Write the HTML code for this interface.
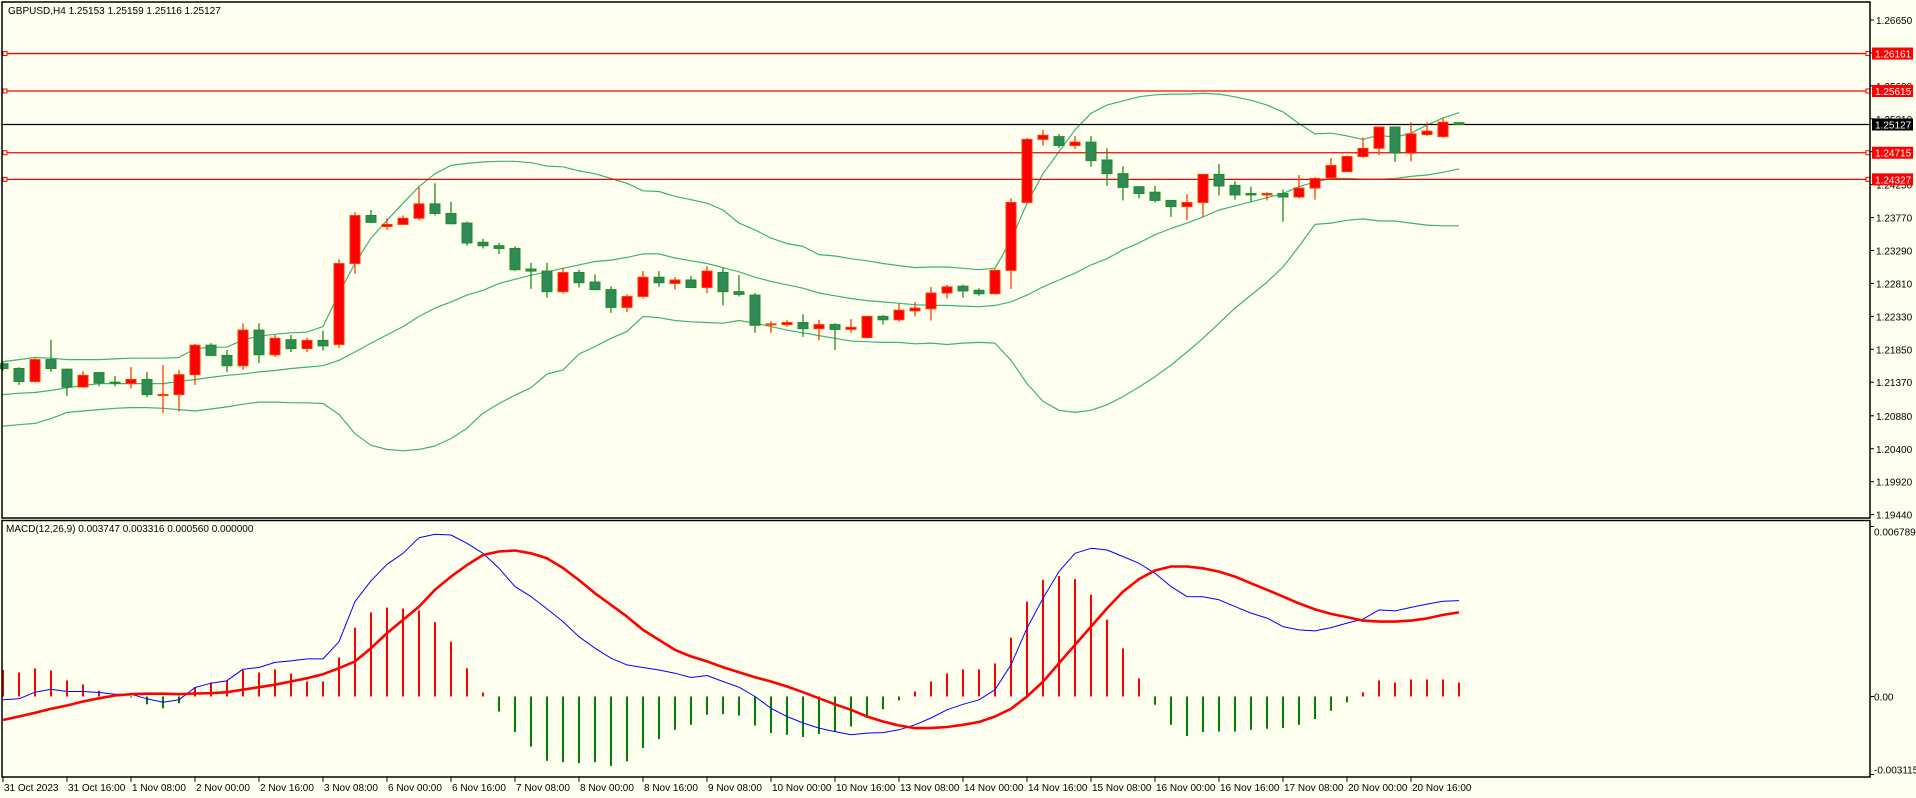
<!DOCTYPE html>
<html><head><meta charset="utf-8"><style>
html,body{margin:0;padding:0;background:#fffff0;}
svg{display:block;font-family:"Liberation Sans",sans-serif;}
</style></head><body>
<svg id="chart" width="1916" height="798" viewBox="0 0 1916 798" xmlns="http://www.w3.org/2000/svg">
<rect x="0" y="0" width="1916" height="798" fill="#fffff0"/>
<g id="bands"></g>
<g id="hlines"></g>
<g id="candles"></g>
<g id="macd"></g>
<rect x="2" y="2" width="1868" height="516" fill="none" stroke="#000" stroke-width="1.5"/>
<rect x="2" y="520.5" width="1868" height="256.5" fill="none" stroke="#000" stroke-width="1.5"/>
<g id="yaxis" font-size="10" fill="#000"></g>
<g id="xaxis" font-size="10" fill="#000"></g>
<text x="8" y="14" font-size="10">GBPUSD,H4  1.25153 1.25159 1.25116 1.25127</text>
<text x="6" y="532" font-size="10">MACD(12,26,9) 0.003747 0.003316 0.000560 0.000000</text>
</svg>
<script>
const opens=[1.2164,1.2157,1.2138,1.2170,1.2156,1.2130,1.2151,1.2137,1.2135,1.2141,1.2119,1.2119,1.2148,1.2191,1.2176,1.2161,1.2213,1.2177,1.2199,1.2186,1.2198,1.2192,1.2310,1.2380,1.2364,1.2367,1.2376,1.2397,1.2383,1.2369,1.2341,1.2336,1.2332,1.2302,1.2299,1.2269,1.2297,1.2283,1.2272,1.2246,1.2262,1.2290,1.2281,1.2286,1.2275,1.2297,1.2269,1.2264,1.2221,1.2221,1.2224,1.2215,1.2221,1.2214,1.2202,1.2233,1.2228,1.2241,1.2244,1.2267,1.2277,1.2271,1.2266,1.2300,1.2399,1.2491,1.2495,1.2482,1.2487,1.2461,1.2441,1.2422,1.2414,1.2402,1.2393,1.2399,1.2440,1.2424,1.2412,1.2410,1.2412,1.2407,1.2420,1.2435,1.2444,1.2466,1.2478,1.2509,1.2471,1.2498,1.2495,1.25153];
const highs=[1.2167,1.2159,1.2172,1.2199,1.2157,1.2153,1.2152,1.2146,1.2159,1.2152,1.2162,1.2155,1.2193,1.2194,1.2184,1.2223,1.2223,1.2206,1.2206,1.2202,1.2212,1.2316,1.2385,1.2388,1.2376,1.2380,1.2422,1.2427,1.2400,1.2371,1.2346,1.2340,1.2335,1.2311,1.2311,1.2304,1.2301,1.2294,1.2277,1.2265,1.2299,1.2299,1.2290,1.2292,1.2306,1.2304,1.2293,1.2267,1.2226,1.2228,1.2236,1.2228,1.2223,1.2229,1.2233,1.2235,1.2251,1.2254,1.2276,1.2279,1.2279,1.2274,1.2302,1.2405,1.2493,1.2505,1.2499,1.2496,1.2496,1.2478,1.2452,1.2422,1.2423,1.2402,1.2411,1.2440,1.2455,1.2430,1.2422,1.2414,1.2418,1.2439,1.2436,1.2464,1.2468,1.2494,1.2509,1.2509,1.2516,1.2516,1.2523,1.25159];
const lows=[1.2154,1.2133,1.2136,1.2152,1.2117,1.2129,1.2131,1.2131,1.2128,1.2115,1.2092,1.2094,1.2133,1.2175,1.2152,1.2155,1.2165,1.2174,1.2181,1.2181,1.2183,1.2187,1.2295,1.2369,1.2359,1.2366,1.2373,1.2380,1.2367,1.2336,1.2332,1.2324,1.2299,1.2273,1.2260,1.2266,1.2275,1.2271,1.2238,1.2239,1.2259,1.2276,1.2272,1.2274,1.2267,1.2249,1.2262,1.2209,1.2209,1.2218,1.2203,1.2198,1.2184,1.2209,1.2201,1.2221,1.2225,1.2233,1.2227,1.2259,1.2260,1.2263,1.2265,1.2273,1.2397,1.2482,1.2478,1.2477,1.2451,1.2423,1.2402,1.2405,1.2399,1.2378,1.2373,1.2378,1.2409,1.2403,1.2400,1.2402,1.2371,1.2405,1.2403,1.2432,1.2443,1.2464,1.2468,1.2458,1.2459,1.2496,1.2493,1.25116];
const closes=[1.2157,1.2138,1.2170,1.2157,1.2130,1.2147,1.2136,1.2136,1.2141,1.2119,1.2119,1.2148,1.2191,1.2176,1.2161,1.2213,1.2177,1.2201,1.2186,1.2198,1.2190,1.2310,1.2380,1.2370,1.2367,1.2376,1.2397,1.2383,1.2368,1.2340,1.2336,1.2332,1.2301,1.2299,1.2269,1.2297,1.2282,1.2272,1.2246,1.2262,1.2290,1.2282,1.2286,1.2275,1.2299,1.2269,1.2265,1.2220,1.2222,1.2224,1.2215,1.2221,1.2214,1.2217,1.2233,1.2228,1.2242,1.2245,1.2267,1.2276,1.2270,1.2266,1.2300,1.2399,1.2491,1.2497,1.2482,1.2487,1.2460,1.2441,1.2421,1.2412,1.2402,1.2393,1.2399,1.2440,1.2423,1.2410,1.2410,1.2412,1.2407,1.2420,1.2434,1.2453,1.2466,1.2478,1.2509,1.2471,1.2499,1.2503,1.2516,1.25127];
const bbUpper=[1.2167,1.2170,1.2173,1.2172,1.2170,1.2170,1.2170,1.2171,1.2172,1.2172,1.2172,1.2173,1.2186,1.2188,1.2188,1.2199,1.2204,1.2207,1.2209,1.2210,1.2218,1.2267,1.2310,1.2347,1.2373,1.2398,1.2422,1.2441,1.2453,1.2456,1.2458,1.2459,1.2459,1.2457,1.2452,1.2451,1.2445,1.2441,1.2434,1.2427,1.2416,1.2415,1.2408,1.2403,1.2398,1.2388,1.2369,1.2359,1.2347,1.2339,1.2335,1.2323,1.2321,1.2317,1.2314,1.2310,1.2307,1.2304,1.2305,1.2305,1.2303,1.2301,1.2303,1.2344,1.2398,1.2441,1.2473,1.2505,1.2529,1.2541,1.2547,1.2553,1.2556,1.2557,1.2557,1.2558,1.2557,1.2553,1.2548,1.2541,1.2531,1.2514,1.2499,1.2500,1.2496,1.2491,1.2497,1.2494,1.2500,1.2512,1.2522,1.2530];
const bbMiddle=[1.2119,1.2121,1.2122,1.2125,1.2129,1.2132,1.2135,1.2135,1.2135,1.2135,1.2135,1.2138,1.2141,1.2144,1.2147,1.2149,1.2152,1.2154,1.2157,1.2159,1.2161,1.2169,1.2181,1.2194,1.2206,1.2218,1.2233,1.2245,1.2254,1.2264,1.2271,1.2281,1.2287,1.2293,1.2298,1.2303,1.2308,1.2313,1.2315,1.2319,1.2324,1.2324,1.2318,1.2314,1.2310,1.2304,1.2298,1.2290,1.2284,1.2279,1.2274,1.2267,1.2263,1.2259,1.2256,1.2254,1.2252,1.2250,1.2249,1.2249,1.2248,1.2247,1.2249,1.2254,1.2264,1.2276,1.2286,1.2296,1.2308,1.2317,1.2330,1.2340,1.2352,1.2361,1.2369,1.2378,1.2388,1.2394,1.2400,1.2406,1.2412,1.2422,1.2429,1.2434,1.2434,1.2433,1.2433,1.2434,1.2437,1.2439,1.2443,1.2448];
const bbLower=[1.2073,1.2075,1.2077,1.2084,1.2093,1.2095,1.2097,1.2099,1.2100,1.2100,1.2099,1.2097,1.2095,1.2098,1.2101,1.2105,1.2108,1.2108,1.2107,1.2107,1.2106,1.2090,1.2062,1.2045,1.2039,1.2037,1.2039,1.2044,1.2055,1.2070,1.2092,1.2106,1.2118,1.2129,1.2149,1.2155,1.2178,1.2189,1.2201,1.2211,1.2233,1.2231,1.2227,1.2225,1.2224,1.2223,1.2227,1.2223,1.2218,1.2213,1.2209,1.2205,1.2201,1.2197,1.2196,1.2195,1.2195,1.2193,1.2194,1.2192,1.2194,1.2195,1.2194,1.2169,1.2135,1.2109,1.2096,1.2093,1.2096,1.2104,1.2116,1.2130,1.2145,1.2162,1.2181,1.2201,1.2223,1.2245,1.2264,1.2283,1.2305,1.2335,1.2367,1.2369,1.2373,1.2375,1.2372,1.2372,1.2369,1.2366,1.2365,1.2365];
const macdMain=[-0.00013,-0.00009,0.00017,0.00029,0.00020,0.00020,0.00016,0.00009,0.00009,-0.00009,-0.00023,-0.00013,0.00036,0.00053,0.00063,0.00109,0.00116,0.00136,0.00142,0.00150,0.00150,0.00219,0.00379,0.00462,0.00528,0.00572,0.00634,0.00648,0.00645,0.00612,0.00572,0.00512,0.00439,0.00399,0.00350,0.00299,0.00239,0.00193,0.00153,0.00126,0.00116,0.00106,0.00093,0.00076,0.00084,0.00060,0.00037,0,-0.00047,-0.00080,-0.00106,-0.00126,-0.00140,-0.00153,-0.00146,-0.00144,-0.00133,-0.00113,-0.00086,-0.00053,-0.00031,-0.00013,0.00027,0.00126,0.00273,0.00392,0.00499,0.00572,0.00592,0.00585,0.00559,0.00532,0.00492,0.00439,0.00399,0.00398,0.00386,0.00359,0.00333,0.00313,0.00279,0.00266,0.00262,0.00275,0.00293,0.00309,0.00346,0.00342,0.00356,0.00369,0.00380,0.00383];
const macdSignal=[-0.00094,-0.00080,-0.00065,-0.00049,-0.00036,-0.00020,-0.00007,0.00004,0.00009,0.00011,0.00011,0.00009,0.00012,0.00013,0.00017,0.00027,0.00037,0.00047,0.00060,0.00073,0.00089,0.00113,0.00140,0.00193,0.00253,0.00306,0.00359,0.00426,0.00479,0.00525,0.00565,0.00579,0.00583,0.00572,0.00552,0.00513,0.00465,0.00412,0.00366,0.00319,0.00266,0.00226,0.00186,0.00160,0.00140,0.00117,0.00097,0.00077,0.00060,0.00040,0.00017,-0.00007,-0.00031,-0.00053,-0.00080,-0.00100,-0.00116,-0.00126,-0.00126,-0.00122,-0.00113,-0.00102,-0.00080,-0.00049,0,0.00059,0.00133,0.00206,0.00279,0.00352,0.00419,0.00469,0.00503,0.00519,0.00519,0.00512,0.00499,0.00479,0.00452,0.00426,0.00399,0.00372,0.00348,0.00330,0.00317,0.00303,0.00299,0.00299,0.00303,0.00312,0.00326,0.00336];
const macdHist=[0.00106,0.00096,0.00112,0.00104,0.00064,0.00048,0.00023,0.00007,-0.00004,-0.00031,-0.00047,-0.00027,0.00037,0.00056,0.00064,0.00105,0.00096,0.00108,0.00092,0.00060,0.00060,0.00156,0.00275,0.00336,0.00355,0.00351,0.00343,0.00297,0.00219,0.00113,0.00016,-0.00060,-0.00142,-0.00200,-0.00257,-0.00262,-0.00266,-0.00262,-0.00277,-0.00259,-0.00206,-0.00170,-0.00133,-0.00113,-0.00073,-0.00070,-0.00076,-0.00116,-0.00146,-0.00153,-0.00162,-0.00150,-0.00142,-0.00120,-0.00086,-0.00051,-0.00016,0.00020,0.00060,0.00092,0.00108,0.00108,0.00132,0.00235,0.00379,0.00466,0.00481,0.00469,0.00407,0.00307,0.00192,0.00072,-0.00033,-0.00113,-0.00158,-0.00142,-0.00140,-0.00140,-0.00133,-0.00129,-0.00126,-0.00113,-0.00090,-0.00057,-0.00023,0.00017,0.00064,0.00056,0.00068,0.00068,0.00068,0.00056];
const priceTicks=[1.26650,1.26170,1.25690,1.25210,1.24730,1.24250,1.23770,1.23290,1.22810,1.22330,1.21850,1.21370,1.20880,1.20400,1.19920,1.19440];
const levelLines=[1.26161,1.25615,1.24715,1.24327];
const lastPrice=1.25127;
const macdTickValues=[0.006789,0,-0.003115];
const macdTickLabels=["0.006789","0.00","-0.003115"];
const timeLabels=["31 Oct 2023","31 Oct 16:00","1 Nov 08:00","2 Nov 00:00","2 Nov 16:00","3 Nov 08:00","6 Nov 00:00","6 Nov 16:00","7 Nov 08:00","8 Nov 00:00","8 Nov 16:00","9 Nov 08:00","10 Nov 00:00","10 Nov 16:00","13 Nov 08:00","14 Nov 00:00","14 Nov 16:00","15 Nov 08:00","16 Nov 00:00","16 Nov 16:00","17 Nov 08:00","20 Nov 00:00","20 Nov 16:00"];

const NS="http://www.w3.org/2000/svg";
function yP(p){return 20+(1.2665-p)*6860;}
function yM(v){return 696.5-v*25040;}
function xB(i){return 3+16*i;}
function mk(tag,attrs,parent){const e=document.createElementNS(NS,tag);for(const k in attrs)e.setAttribute(k,attrs[k]);parent.appendChild(e);return e;}
const gB=document.getElementById('bands'),gH=document.getElementById('hlines'),gC=document.getElementById('candles'),gM=document.getElementById('macd'),gY=document.getElementById('yaxis'),gX=document.getElementById('xaxis');

function poly(arr,fy,color,w,parent,name){
  const pts=arr.map((v,i)=>xB(i).toFixed(1)+','+fy(v).toFixed(1)).join(' ');
  const pl=mk('polyline',{points:pts,fill:'none',stroke:color,'stroke-width':w,'stroke-linejoin':'round'},parent);
  
  
}
poly(bbUpper,yP,'#3cb371',1.2,gB,'bollinger-upper');
poly(bbMiddle,yP,'#3cb371',1.2,gB,'bollinger-middle');
poly(bbLower,yP,'#3cb371',1.2,gB,'bollinger-lower');

levelLines.forEach(p=>{
  const y=yP(p);
  const l=mk('line',{x1:2,x2:1870,y1:y,y2:y,stroke:'#ff0000','stroke-width':1.3},gH);
  
  
  const s1=mk('rect',{x:3,y:y-2,width:4,height:4,fill:'#fffff0',stroke:'#ff0000','stroke-width':1},gH);
  
  
  const s2=mk('rect',{x:1866,y:y-2,width:4,height:4,fill:'#fffff0',stroke:'#ff0000','stroke-width':1},gH);
  
  
});
{
  const y=yP(lastPrice);
  const l=mk('line',{x1:2,x2:1870,y1:y,y2:y,stroke:'#000','stroke-width':1.3},gH);
  
  
}

closes.forEach((c,i)=>{
  const o=opens[i],h=highs[i],lo=lows[i],x=xB(i);
  const up=c>=o;
  const wc=up?'#ff3c00':'#228b22';
  const w=mk('line',{x1:x,x2:x,y1:yP(h),y2:yP(lo),stroke:wc,'stroke-width':1.3},gC);
  
  
  const top=yP(Math.max(o,c)),bot=yP(Math.min(o,c));
  const r=mk('rect',{x:x-5,y:top,width:10,height:Math.max(bot-top,1),fill:up?'#ff0000':'#2e8b57',stroke:wc,'stroke-width':1},gC);
  
  
});

macdHist.forEach((v,i)=>{
  const x=xB(i),y0=yM(0),y1=yM(v);
  const b=mk('line',{x1:x,x2:x,y1:y0,y2:y1,stroke:v>=0?'#ff0000':'#008000','stroke-width':2},gM);
  
  
});
poly(macdMain,yM,'#0000ff',1,gM,'macd-main-line');
poly(macdSignal,yM,'#ff0000',2.6,gM,'macd-signal-line');

priceTicks.forEach(p=>{
  const y=yP(p);
  const t=mk('line',{x1:1870,x2:1874,y1:y,y2:y,stroke:'#000'},gY);
  
  
  const tx=mk('text',{x:1876,y:y+4},gY);tx.textContent=p.toFixed(5);
  
  
});
function tag(p,bg){
  const y=yP(p);
  const r=mk('rect',{x:1872,y:y-6,width:41,height:12,fill:bg},gY);
  
  
  const tx=mk('text',{x:1875,y:y+4,fill:'#fff'},gY);tx.textContent=p.toFixed(5);
  
  
}
levelLines.forEach(p=>tag(p,'#ff0000'));
tag(lastPrice,'#000');

macdTickValues.forEach((v,i)=>{
  const y=yM(v);
  const t=mk('line',{x1:1870,x2:1874,y1:y,y2:y,stroke:'#000'},gY);
  
  
  const ty=i===0?y+9:(i===2?y-1:y+4);
  const tx=mk('text',{x:1874,y:ty},gY);tx.textContent=macdTickLabels[i];
  
  
});

timeLabels.forEach((s,i)=>{
  const x=xB(4*i);
  const t=mk('line',{x1:x,x2:x,y1:777,y2:782,stroke:'#000'},gX);
  
  
  const tx=mk('text',{x:x+1,y:791},gX);tx.textContent=s;
  
  
});
</script>
</body></html>
